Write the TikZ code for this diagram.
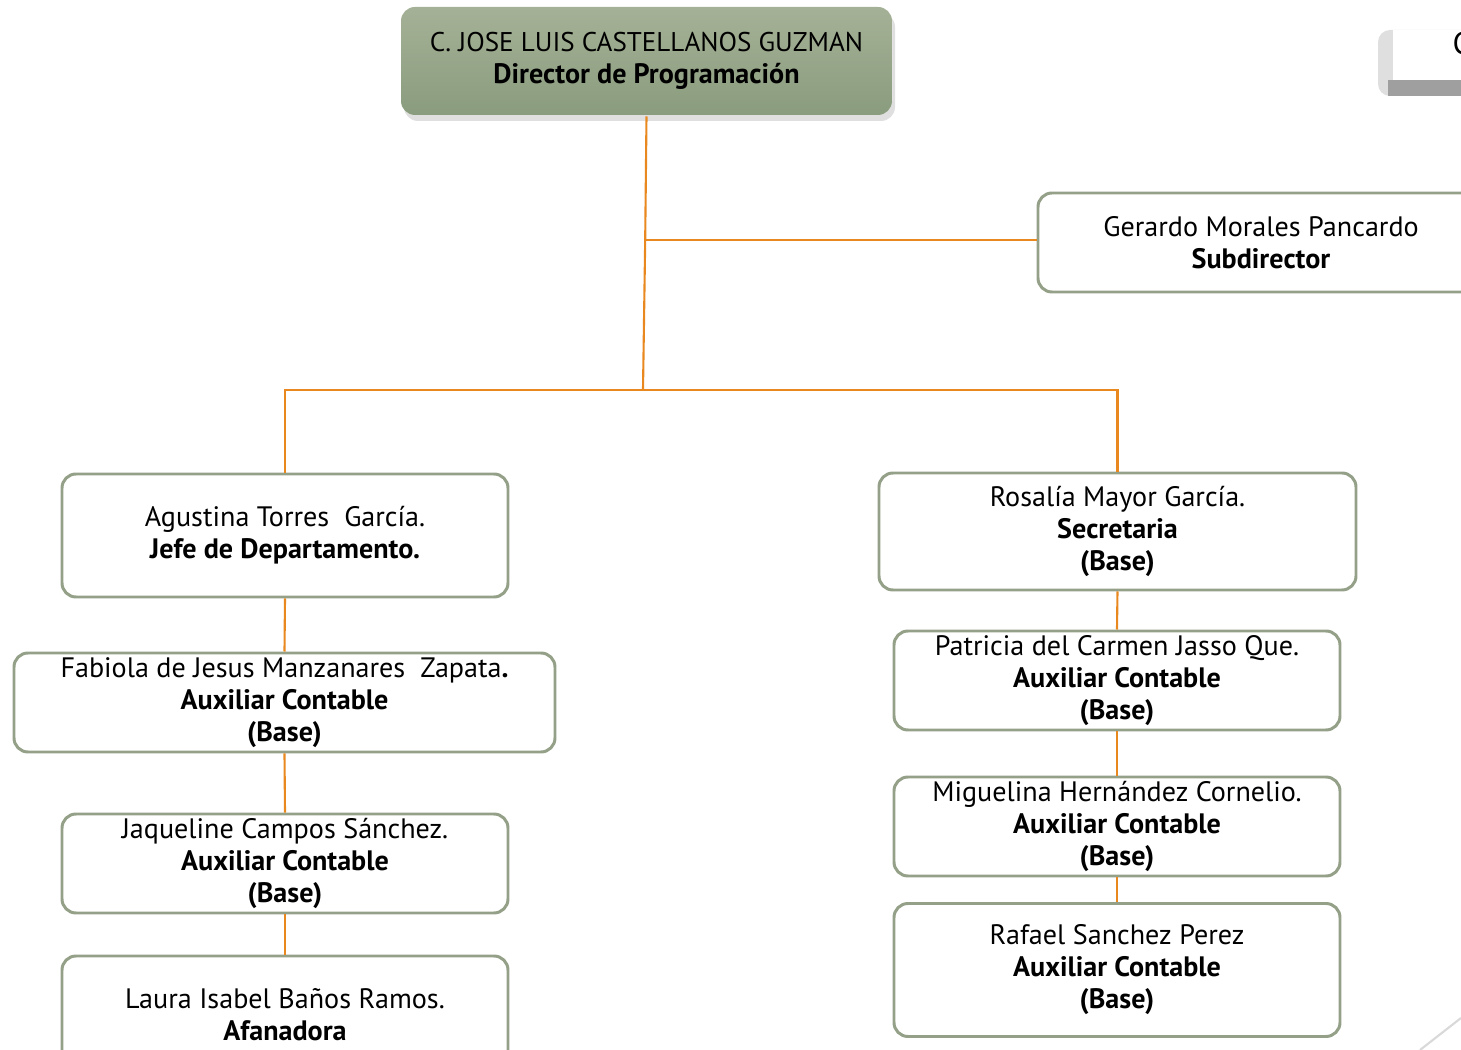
\documentclass[tikz,border=0pt]{standalone}
\usepackage{fontspec}
\setmainfont{PT Sans}
\usepackage{tikz}
\usetikzlibrary{positioning,shadows}
\definecolor{boxline}{RGB}{148,160,135}
\definecolor{linkorange}{RGB}{232,136,30}
\definecolor{greentop}{RGB}{165,177,150}
\definecolor{greenbot}{RGB}{138,156,126}

\begin{document}
\begin{tikzpicture}[
			x=0.1mm, y=-0.1mm,
			every node/.style={align=center, font=\fontsize{8}{9.1}\selectfont},
			person/.style={draw=boxline, line width=0.85pt, rounded corners=1.4mm, fill=white, minimum width=44.6mm, minimum height=9.9mm, inner sep=1pt},
			head/.style={person, top color=greentop, bottom color=greenbot, drop shadow={shadow xshift=0.3mm, shadow yshift=-0.6mm, opacity=0.25}, minimum width=49.1mm, minimum height=10.8mm, draw=none},
			link/.style={draw=linkorange, line width=0.6pt}
		]

		\useasboundingbox (0,0) rectangle (1461,1050);
		\clip (0,0) rectangle (1461,1050);

		\node[head] (dir) at (646.5,61) {{\fontsize{7.7}{9.1}\selectfont C. JOSE LUIS CASTELLANOS GUZMAN}\\\textbf{Director de Programación}};

		\node[person] (sub) at (1261,242.5) {Gerardo Morales Pancardo\\\textbf{Subdirector}};

		\node[person, minimum height=12.3mm] (agu) at (285,535.5) {Agustina Torres\ \ García.\\\textbf{Jefe de Departamento.}};
		\node[person, minimum width=54.1mm] (fab) at (284.5,702.5) {Fabiola de Jesus Manzanares\ \ Zapata\textbf{.}\\\textbf{Auxiliar Contable}\\\textbf{(Base)}};
		\node[person] (jaq) at (285,863.5) {Jaqueline Campos Sánchez.\\\textbf{Auxiliar Contable}\\\textbf{(Base)}};
		\node[person, minimum height=11.8mm] (lau) at (285,1015) {Laura Isabel Baños Ramos.\\\textbf{Afanadora}};

		\node[person, minimum width=47.7mm, minimum height=11.7mm] (ros) at (1117.5,531.5) {Rosalía Mayor García.\\\textbf{Secretaria}\\\textbf{(Base)}};
		\node[person] (pat) at (1117,680.5) {Patricia del Carmen Jasso Que.\\\textbf{Auxiliar Contable}\\\textbf{(Base)}};
		\node[person] (mig) at (1117,826.5) {Miguelina Hernández Cornelio.\\\textbf{Auxiliar Contable}\\\textbf{(Base)}};
		\node[person, minimum height=13.3mm] (raf) at (1117,970) {Rafael Sanchez Perez\\\textbf{Auxiliar Contable}\\\textbf{(Base)}};

		\coordinate (j0) at (645.2,240);
		\coordinate (j1) at (643,390);

		\draw[link] (dir.south) -- (j0) -- (j1);
		\draw[link] (j0) -- (j0 -| sub.west);
		\draw[link] (agu.north) |- (j1) -| (ros.north);
		\draw[link] (agu.south) -- (fab.north);
		\draw[link] (fab.south) -- (jaq.north);
		\draw[link] (jaq.south) -- (lau.north);
		\draw[link] (ros.south) -- (pat.north);
		\draw[link] (pat.south) -- (mig.north);
		\draw[link] (mig.south) -- (raf.north);

		% fragments at the right edge
		\fill[gray!25, rounded corners=1.2mm] (1378,30) rectangle (1480,96);
		\fill[gray!75] (1388,80) rectangle (1480,96);
		\fill[white] (1393,30) rectangle (1480,80);
		\node[font=\fontsize{9}{10}\selectfont, anchor=west, inner sep=0pt] (frag) at (1452,43) {C};
		\draw[gray!30, line width=0.6pt] (1420,1050) -- (1461,1018);

	\end{tikzpicture}
\end{document}
